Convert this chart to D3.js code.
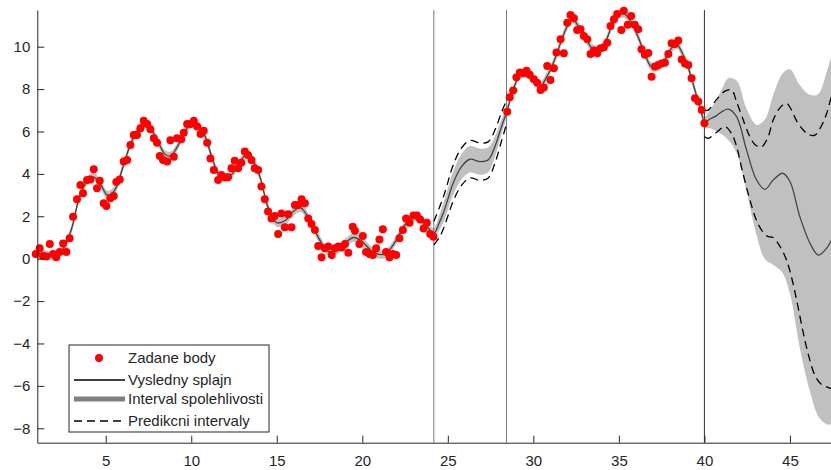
<!doctype html>
<html lang="en">
<head>
<meta charset="utf-8">
<title>Splajn</title>
<script src="https://cdn.jsdelivr.net/npm/d3@7"></script>
<style>
  body { margin: 0; background: #fff; }
  svg { display: block; font-family: "Liberation Sans", Arial, sans-serif; }
</style>
</head>
<body>
<svg id="chart" width="831" height="470"></svg>
<script>
// measured points
var pointsX = [0.91,1.14,1.34,1.53,1.73,1.92,2.11,2.31,2.51,2.70,2.89,3.09,3.32,3.52,3.67,3.91,4.10,4.30,4.49,4.65,
  4.88,5.04,5.27,5.47,5.62,5.82,6.05,6.25,6.44,6.64,6.83,7.03,7.22,7.42,7.61,7.81,8.00,8.16,8.35,8.59,
  8.78,8.98,9.17,9.41,9.56,9.76,9.96,10.15,10.34,10.54,10.73,10.93,11.12,11.32,11.57,11.76,11.96,12.15,12.35,12.54,
  12.74,12.93,13.13,13.32,13.52,13.71,13.91,14.10,14.30,14.49,14.69,14.88,15.08,15.27,15.47,15.67,15.86,16.06,16.25,16.45,
  16.64,16.84,17.03,17.23,17.42,17.62,17.81,18.01,18.21,18.40,18.60,18.79,18.99,19.18,19.44,19.57,19.83,20.03,20.22,20.42,
  20.61,20.81,21.00,21.20,21.39,21.59,21.78,21.98,22.17,22.37,22.56,22.76,22.99,23.19,23.38,23.58,23.77,23.97,24.16,
  28.47,28.62,28.82,29.01,29.21,29.40,29.60,29.79,30.03,30.22,30.42,30.61,30.81,31.00,31.20,31.35,31.59,31.78,31.98,32.17,
  32.37,32.56,32.76,32.95,33.15,33.34,33.54,33.73,33.93,34.12,34.32,34.51,34.71,34.90,35.14,35.29,35.52,35.72,35.93,36.13,
  36.32,36.52,36.72,36.91,37.11,37.30,37.50,37.69,37.89,38.08,38.28,38.47,38.67,38.86,39.06,39.25,39.45,39.64,39.84,40.00];
var pointsY = [0.22,0.49,0.13,0.10,0.69,0.22,0.07,0.32,0.72,0.32,0.96,1.98,2.80,3.48,3.09,3.71,3.74,4.22,3.32,3.68,
  2.61,2.49,2.85,2.96,3.62,3.74,4.58,4.66,5.36,5.83,5.83,6.15,6.51,6.35,6.10,5.68,5.47,4.84,4.66,4.58,
  5.59,4.81,5.68,5.63,5.94,6.35,6.35,6.51,6.23,5.88,6.04,5.47,4.73,4.18,3.71,3.95,3.84,3.84,4.26,4.62,
  4.26,4.53,5.05,4.89,4.66,4.26,4.18,3.40,2.80,2.22,1.90,2.01,1.17,2.13,1.48,2.09,1.48,2.53,2.53,2.80,
  2.61,1.90,1.64,1.35,0.60,0.07,0.49,0.57,0.17,0.49,0.57,0.53,0.69,0.28,1.51,1.32,0.69,1.07,0.32,0.22,
  0.17,0.49,0.91,1.39,0.32,0.07,0.22,0.17,0.96,1.35,1.90,1.69,2.04,2.04,1.85,1.42,1.69,1.17,1.04,
  6.93,7.61,7.93,8.56,8.78,8.75,8.87,8.67,8.46,8.30,7.96,8.08,9.09,8.43,8.98,9.72,10.35,9.69,11.13,11.50,
  11.34,10.79,10.82,10.50,10.35,9.66,9.82,9.69,9.93,9.97,10.19,10.98,11.29,11.54,10.79,11.70,11.03,11.45,11.03,10.82,
  9.88,9.62,9.70,8.58,9.06,9.13,9.21,9.24,9.66,10.16,10.13,10.29,9.40,9.21,9.13,8.51,7.57,7.41,7.01,6.39];

// fitted spline and half width of the confidence band
var fitX = [1.0,1.5,2.0,2.5,3.0,3.5,4.0,4.3,4.7,5.1,5.5,6.0,6.5,7.0,7.3,7.6,8.0,8.5,8.8,9.2,
  9.7,10.1,10.4,10.8,11.2,11.6,12.0,12.4,12.8,13.2,13.5,14.0,14.5,15.0,15.5,16.0,16.4,17.0,17.5,18.0,
  18.5,19.0,19.5,20.0,20.5,21.0,21.4,22.0,22.5,23.0,23.3,23.8,24.18,
  24.5,24.73,25.0,25.31,25.8,26.29,26.87,27.36,27.75,28.14,28.43,
  28.8,29.2,29.6,30.0,30.4,30.8,31.2,31.6,32.0,32.3,32.6,33.0,33.4,33.8,34.2,34.6,35.0,35.3,35.7,36.1,
  36.5,36.9,37.3,37.7,38.1,38.4,38.7,39.1,39.5,39.8,40.0,
  40.35,40.71,41.05,41.39,41.88,42.46,43.05,43.54,44.02,44.57,45.0,45.58,46.17,46.66,47.14,47.5];
var fitY = [0.3,0.18,0.15,0.45,1.4,3.0,3.75,3.85,3.5,3.0,3.2,4.3,5.5,6.2,6.4,6.2,5.6,4.9,4.85,5.3,
  6.1,6.4,6.3,5.8,4.8,4.0,3.8,4.0,4.5,4.9,4.75,3.9,2.4,1.7,1.8,2.25,2.4,1.7,0.9,0.35,
  0.4,0.75,1.0,0.8,0.4,0.2,0.25,0.9,1.6,1.95,1.95,1.5,1.2,
  1.7,2.14,2.8,3.56,4.34,4.69,4.58,4.66,5.28,6.23,6.9,
  7.9,8.65,8.75,8.45,8.15,8.6,9.3,10.2,11.0,11.3,11.0,10.5,9.95,9.8,10.2,11.0,11.5,11.55,11.2,10.5,
  9.7,9.05,9.05,9.4,9.95,10.1,9.7,8.9,7.8,7.0,6.45,
  6.6,6.75,6.95,7.05,6.7,5.13,3.71,3.27,3.71,4.03,3.64,1.98,0.73,0.17,0.49,1.0];
var ciHalf = [0.3,0.2,0.2,0.2,0.2,0.2,0.2,0.2,0.2,0.2,0.2,0.2,0.2,0.2,0.2,0.2,0.2,0.2,0.2,0.2,
  0.2,0.2,0.2,0.2,0.2,0.2,0.2,0.2,0.2,0.2,0.2,0.2,0.2,0.2,0.2,0.2,0.2,0.2,0.2,0.2,
  0.2,0.2,0.2,0.2,0.2,0.2,0.2,0.2,0.2,0.2,0.2,0.2,0.25,
  0.35,0.45,0.5,0.55,0.6,0.62,0.62,0.58,0.48,0.35,0.25,
  0.2,0.2,0.2,0.2,0.2,0.2,0.2,0.2,0.2,0.2,0.2,0.2,0.2,0.2,0.2,0.2,0.2,0.2,0.2,0.2,
  0.2,0.2,0.2,0.2,0.2,0.2,0.2,0.2,0.2,0.2,0.25,
  0.45,0.75,1.1,1.45,1.7,1.95,2.6,3.3,4.0,4.7,5.3,6.2,7.0,7.6,8.3,8.8];

// prediction intervals (gap and extrapolation)
var predX1 = [24.18,24.5,24.73,25.0,25.31,25.8,26.29,26.87,27.36,27.75,28.14,28.43];
var predLo1 = [0.65,1.0,1.39,2.0,2.71,3.46,3.81,3.70,3.81,4.5,5.55,6.35];
var predHi1 = [1.75,2.4,2.89,3.6,4.41,5.22,5.57,5.46,5.51,6.06,6.91,7.45];
var predX2 = [40.0,40.22,40.7,41.2,41.59,41.88,42.2,42.66,43.0,43.34,43.7,44.02,44.4,44.8,45.1,45.39,45.78,46.1,46.46,46.8,47.14,47.5];
var predLo2 = [5.75,5.68,5.95,6.23,5.9,5.3,4.2,2.77,1.9,1.35,1.05,1.0,0.6,-0.06,-0.9,-1.95,-3.5,-4.6,-5.5,-5.9,-6.05,-6.15];
var predHi2 = [7.0,7.01,7.5,7.9,7.96,7.4,6.7,5.75,5.35,5.28,5.7,6.54,7.1,7.33,7.0,6.5,6.07,5.85,5.83,6.2,6.84,7.9];

var splitX = [24.18, 28.43, 40];
var splitColor = ["#7a7a7a", "#7a7a7a", "#333333"];
var xTicks = [5, 10, 15, 20, 25, 30, 35, 40, 45];
var yTicks = [-8, -6, -4, -2, 0, 2, 4, 6, 8, 10];
var legendLabels = ["Zadane body", "Vysledny splajn", "Interval spolehlivosti", "Predikcni intervaly"];

var axisColor = "#262626";
var fontSize = "15px";
var svg = d3.select("#chart");

var x = d3.scaleLinear().domain([1, 47.4]).range([37.3, 831]);
var y = d3.scaleLinear().domain([-8.68, 11.73]).range([442.7, 10]);

var fit = fitX.map(function(d, i){ return {x: d, y: fitY[i], h: ciHalf[i]}; });
var points = pointsX.map(function(d, i){ return {x: d, y: pointsY[i]}; });
var pred1 = predX1.map(function(d, i){ return {x: d, lo: predLo1[i], hi: predHi1[i]}; });
var pred2 = predX2.map(function(d, i){ return {x: d, lo: predLo2[i], hi: predHi2[i]}; });

var curve = d3.curveCatmullRom.alpha(0.5);

// confidence band
svg.append("path")
  .datum(fit)
  .attr("fill", "#c0c0c0")
  .attr("d", d3.area().curve(curve)
    .x(function(d){ return x(d.x); })
    .y0(function(d){ return y(d.y - d.h); })
    .y1(function(d){ return y(d.y + d.h); }));

// split lines
svg.append("g").selectAll("line")
  .data(splitX)
  .enter()
  .append("line")
  .attr("x1", function(d){ return x(d); }).attr("x2", function(d){ return x(d); })
  .attr("y1", y.range()[1]).attr("y2", y.range()[0])
  .attr("stroke", function(d, i){ return splitColor[i]; })
  .attr("stroke-width", 1);

// spline
svg.append("path")
  .datum(fit)
  .attr("fill", "none")
  .attr("stroke", "#454545")
  .attr("stroke-width", 1.3)
  .attr("d", d3.line().curve(curve)
    .x(function(d){ return x(d.x); })
    .y(function(d){ return y(d.y); }));

// prediction intervals
[pred1, pred2].forEach(function(p){
  ["lo", "hi"].forEach(function(k){
    svg.append("path")
      .datum(p)
      .attr("fill", "none")
      .attr("stroke", "#000")
      .attr("stroke-width", 1.3)
      .attr("stroke-dasharray", "8,5")
      .attr("d", d3.line().curve(curve)
        .x(function(d){ return x(d.x); })
        .y(function(d){ return y(d[k]); }));
  });
});

// points
svg.append("g").selectAll("circle")
  .data(points)
  .enter()
  .append("circle")
  .attr("cx", function(d){ return x(d.x); })
  .attr("cy", function(d){ return y(d.y); })
  .attr("r", 4)
  .attr("fill", "#ff0000");

// axes
var yAxis = svg.append("g")
  .attr("transform", "translate(" + x.range()[0] + ",0)")
  .call(d3.axisLeft(y).tickValues(yTicks).tickSize(-7).tickSizeOuter(0).tickPadding(7));
var xAxis = svg.append("g")
  .attr("transform", "translate(0," + y.range()[0] + ")")
  .call(d3.axisBottom(x).tickValues(xTicks).tickSize(-7).tickSizeOuter(0).tickPadding(13));
[xAxis, yAxis].forEach(function(a){
  a.select(".domain").attr("stroke", axisColor);
  a.selectAll(".tick line").attr("stroke", axisColor);
  a.selectAll(".tick text").attr("fill", axisColor).style("font-size", fontSize)
    .style("font-family", "'Liberation Sans', Arial, sans-serif");
});

// legend
var leg = svg.append("g").attr("transform", "translate(69,345)");
leg.append("rect").attr("width", 200).attr("height", 87)
  .attr("fill", "#fff").attr("stroke", axisColor).attr("stroke-width", 1);
var rowY = [13, 35, 54, 76];
leg.append("circle").attr("cx", 30).attr("cy", rowY[0]).attr("r", 4).attr("fill", "#ff0000");
leg.append("line").attr("x1", 5).attr("x2", 56).attr("y1", rowY[1]).attr("y2", rowY[1])
  .attr("stroke", "#000").attr("stroke-width", 1.3);
leg.append("line").attr("x1", 5).attr("x2", 56).attr("y1", rowY[2]).attr("y2", rowY[2])
  .attr("stroke", "#808080").attr("stroke-width", 5);
leg.append("line").attr("x1", 5).attr("x2", 56).attr("y1", rowY[3]).attr("y2", rowY[3])
  .attr("stroke", "#000").attr("stroke-width", 1.3).attr("stroke-dasharray", "8,5");
leg.selectAll("text")
  .data(legendLabels)
  .enter()
  .append("text")
  .attr("x", 59)
  .attr("y", function(d, i){ return rowY[i] + 5; })
  .attr("fill", axisColor)
  .style("font-size", fontSize)
  .text(function(d){ return d; });
</script>
</body>
</html>
